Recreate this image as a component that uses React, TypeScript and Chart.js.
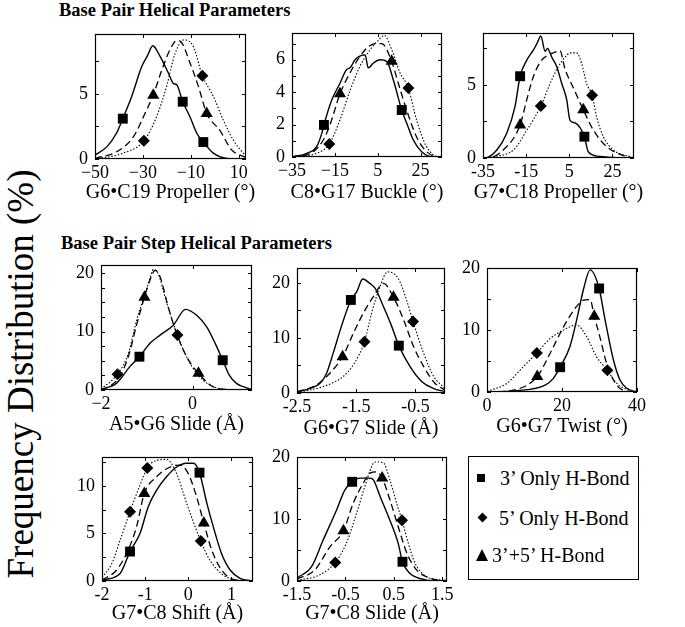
import React, { useEffect, useRef } from "react";
import { Chart, registerables } from "chart.js";
Chart.register(...registerables);

type Pt = [number, number];

// ---------- Panel 1: G6•C19 Propeller ----------
const p1Solid: Pt[] = [[-50,0.3],[-45,0.95],[-41,2.0],[-38.4,3.1],[-34.7,4.8],[-30.5,7.1],[-28.2,7.9],[-25.9,8.7],[-22.9,7.9],[-19.4,6.6],[-17.3,5.8],[-15.9,5.7],[-13.4,4.4],[-10.4,3.25],[-7.6,2.0],[-4.8,1.3],[-0.6,0.45],[5,0.05],[13,0]];
const p1Dashed: Pt[] = [[-50,0.05],[-41,0.56],[-34,1.7],[-28.4,3.8],[-25.7,4.9],[-22.2,6.8],[-18.7,8.4],[-15.9,9.1],[-13.9,8.95],[-10.4,7.4],[-6.9,5.6],[-3.4,3.5],[2.1,2.2],[7,0.7],[11.9,0.2],[13,0.12]];
const p1Dotted: Pt[] = [[-50,0],[-38.2,0.45],[-29.6,1.4],[-24.3,3.25],[-20.1,5.6],[-16.6,8.1],[-12.9,9.15],[-9,8.65],[-5.2,6.4],[-0.6,4.8],[3.5,3.0],[7.7,1.46],[11.9,0.45],[13,0.3]];
const p1Squares: Pt[] = [[-38.4,3.1],[-13.4,4.4],[-4.8,1.3]];
const p1Diamonds: Pt[] = [[-29.6,1.4],[-5.2,6.4]];
const p1Triangles: Pt[] = [[-25.7,4.9],[-3.4,3.5]];
const p1XTicks = [-50,-30,-10,10];
const p1XLabels = ["\u221250","\u221230","\u221210","10"];
const p1YTicks = [0,2.5,5,7.5];
const p1YLabels = ["0","","5",""];

// ---------- Panel 2: C8•G17 Buckle ----------
const p2Solid: Pt[] = [[-35,0],[-28.1,0.23],[-23.5,0.64],[-21.1,1.46],[-20.1,1.98],[-16.5,3.5],[-12.6,4.55],[-9.5,5.4],[-7.9,5.5],[-5.6,6.0],[-0.9,6.3],[0.6,5.5],[3,5.8],[6.1,6.0],[9.2,5.9],[12.3,4.75],[16.2,2.9],[18.5,2.1],[21.6,1.05],[25.5,0.33],[30.9,0],[35,0]];
const p2Dashed: Pt[] = [[-35,0],[-25,0.33],[-20.4,1.05],[-17.3,1.98],[-12.6,3.9],[-7.9,5.2],[-3.3,6.2],[0.6,6.8],[4.5,7.0],[6.9,7.0],[11.5,5.9],[14.6,4.55],[18.5,2.9],[23.1,1.25],[27.8,0.33],[34,0],[35,0]];
const p2Dotted: Pt[] = [[-35,0],[-23.5,0.23],[-17.6,0.8],[-12.6,2.3],[-7.9,4.1],[-3.3,5.6],[1.4,6.6],[5.3,7.2],[8.1,7.5],[11.6,6.6],[15.4,5.2],[19.3,4.25],[23.1,2.3],[27.8,0.64],[34,0],[35,0]];
const p2Squares: Pt[] = [[-20.1,1.98],[16.2,2.9]];
const p2Diamonds: Pt[] = [[-17.6,0.8],[19.3,4.25]];
const p2Triangles: Pt[] = [[-12.6,3.9],[11.5,5.9]];
const p2XTicks = [-35,-15,5,25];
const p2XLabels = ["\u221235","\u221215","5","25"];
const p2YTicks = [0,1,2,3,4,5,6,7];
const p2YLabels = ["0","","2","","4","","6",""];

// ---------- Panel 3: G7•C18 Propeller ----------
const p3Solid: Pt[] = [[-35,0],[-34.1,0],[-28.6,0.55],[-24,1.7],[-20.2,3.5],[-17.8,5.6],[-14.7,6.7],[-11.6,7.4],[-9.8,7.9],[-8.2,8.35],[-6.2,7.3],[-5.1,7.5],[-3.1,6.9],[-0.8,6.25],[1.5,5.1],[3.8,4.0],[5.3,2.6],[7.7,2.4],[12,1.46],[13.8,0.43],[19.2,0.1],[30,0],[35,0]];
const p3Dashed: Pt[] = [[-35,0],[-33,0],[-25.6,0.55],[-17.8,2.26],[-14.7,4.0],[-11.6,5.6],[-7.8,6.7],[-4.7,7.05],[-2.4,7.2],[0.7,7.35],[3,6.1],[6.9,4.8],[11.5,3.3],[16.2,1.9],[22.4,0.77],[31.6,0.1],[35,0]];
const p3Dotted: Pt[] = [[-35,0],[-30,0.1],[-20.9,0.55],[-14.7,1.9],[-8.2,3.56],[-3.9,5.1],[-0.1,6.25],[3,6.9],[5.3,7.2],[8.4,7.2],[10.7,6.5],[13,5.1],[15.6,4.3],[17.7,2.8],[20.8,1.46],[25.4,0.55],[34.7,0.02],[35,0]];
const p3Squares: Pt[] = [[-17.8,5.6],[12,1.46]];
const p3Diamonds: Pt[] = [[-8.2,3.56],[15.6,4.3]];
const p3Triangles: Pt[] = [[-17.8,2.26],[11.5,3.3]];
const p3XTicks = [-35,-15,5,25];
const p3XLabels = ["-35","-15","5","25"];
const p3YTicks = [0,2.5,5,7.5];
const p3YLabels = ["0","","5",""];

// ---------- Panel 4: A5•G6 Slide ----------
const p4Solid: Pt[] = [[-2,0.1],[-1.66,1.15],[-1.37,4.0],[-1.16,5.7],[-0.93,8.0],[-0.71,9.4],[-0.42,11.1],[-0.15,13.8],[0.09,12.8],[0.31,10.8],[0.5,7.9],[0.66,5.1],[0.8,2.6],[0.96,1.14],[1.11,0.56],[1.25,0.17],[1.3,0.1]];
const p4Dashed: Pt[] = [[-2,0],[-1.77,0.85],[-1.59,2.3],[-1.4,5.8],[-1.22,11.2],[-1.05,15.9],[-0.93,18.8],[-0.82,20.5],[-0.71,19.4],[-0.53,14.2],[-0.35,9.7],[-0.12,5.6],[0.13,2.85],[0.45,0.56],[0.75,0.1],[1.3,0]];
const p4Dotted: Pt[] = [[-2,0.15],[-1.64,2.7],[-1.4,6.3],[-1.22,12.0],[-1.05,16.2],[-0.93,19.1],[-0.86,20.6],[-0.75,19.9],[-0.57,15.1],[-0.33,9.4],[-0.13,5.7],[0.09,2.85],[0.38,0.85],[0.75,0.1],[1.3,0]];
const p4Squares: Pt[] = [[-1.16,5.7],[0.66,5.1]];
const p4Diamonds: Pt[] = [[-1.64,2.7],[-0.33,9.4]];
const p4Triangles: Pt[] = [[-1.05,15.9],[0.13,2.85]];
const p4XTicks = [-2,0];
const p4XLabels = ["\u22122","0"];
const p4YTicks = [0,2.5,5,7.5,10,12.5,15,17.5,20];
const p4YLabels = ["0","","","","10","","","","20"];

// ---------- Panel 5: G6•G7 Slide ----------
const p5Solid: Pt[] = [[-2.5,0.2],[-2.28,0.85],[-2.11,1.76],[-2,3.6],[-1.89,7.2],[-1.75,12.1],[-1.59,16.9],[-1.49,18.4],[-1.39,20.7],[-1.27,19.9],[-1.18,19.0],[-1.04,15.7],[-0.9,12.1],[-0.78,8.6],[-0.59,4.8],[-0.39,2.05],[-0.2,0.85],[0,0.24]];
const p5Dashed: Pt[] = [[-2.5,0.2],[-2.17,1.45],[-2,3.0],[-1.73,6.6],[-1.55,10.8],[-1.38,14.5],[-1.21,17.5],[-1.04,19.9],[-0.87,17.4],[-0.7,13.3],[-0.53,8.4],[-0.36,4.8],[-0.17,1.76],[0,0.55]];
const p5Dotted: Pt[] = [[-2.5,0.1],[-2.06,1.15],[-1.72,3.0],[-1.55,5.1],[-1.36,9.3],[-1.24,14.5],[-1.1,19.3],[-0.97,22.0],[-0.79,20.8],[-0.65,16.9],[-0.54,13.0],[-0.36,7.2],[-0.19,3.0],[0,0.85]];
const p5Squares: Pt[] = [[-1.59,16.9],[-0.78,8.6]];
const p5Diamonds: Pt[] = [[-1.36,9.3],[-0.54,13.0]];
const p5Triangles: Pt[] = [[-1.73,6.6],[-0.87,17.4]];
const p5XTicks = [-2.5,-1.5,-0.5];
const p5XLabels = ["-2.5","-1.5","-0.5"];
const p5YTicks = [0,5,10,15,20];
const p5YLabels = ["0","","10","","20"];

// ---------- Panel 6: G6•G7 Twist ----------
const p6Solid: Pt[] = [[0,0],[7.9,0.2],[15.5,1.1],[17.7,2.2],[19.5,4.0],[22.1,7.3],[23.9,11.6],[25.7,16.5],[27.5,19.7],[29.9,16.7],[31.5,11.6],[33.7,5.2],[35.5,1.9],[37.3,0.6],[40,0]];
const p6Dashed: Pt[] = [[0,0],[7,0.3],[13.4,2.5],[16.8,6.2],[20.4,10.5],[23.9,13.8],[25.7,14.8],[27.5,14.9],[28.6,12.2],[30.1,8.9],[31.9,4.6],[34.6,1.1],[38.2,0.05],[40,0]];
const p6Dotted: Pt[] = [[0,0.1],[5.3,1.4],[9.7,4.1],[13.3,6.3],[16.8,8.6],[20.4,10.0],[23.9,10.8],[26.6,8.9],[29.2,5.7],[32.1,3.5],[34.6,1.4],[38.2,0.2],[40,0]];
const p6Squares: Pt[] = [[19.5,4.0],[29.9,16.7]];
const p6Diamonds: Pt[] = [[13.3,6.3],[32.1,3.5]];
const p6Triangles: Pt[] = [[13.4,2.5],[28.6,12.2]];
const p6XTicks = [0,20,40];
const p6XLabels = ["0","20","40"];
const p6YTicks = [0,5,10,15,20];
const p6YLabels = ["0","","10","","20"];

// ---------- Panel 7: G7•C8 Shift ----------
const p7Solid: Pt[] = [[-2,0.1],[-1.58,0.8],[-1.35,3.1],[-1.12,5.0],[-0.93,7.8],[-0.73,9.6],[-0.5,11.0],[-0.27,12.0],[-0.04,12.4],[0.12,12.4],[0.26,11.4],[0.43,8.2],[0.58,5.7],[0.77,2.9],[0.97,1.16],[1.2,0.28],[1.5,0]];
const p7Dashed: Pt[] = [[-2,0.1],[-1.66,1.16],[-1.39,3.3],[-1.2,5.7],[-1.02,9.2],[-0.73,11.0],[-0.42,12.0],[-0.19,12.2],[0,11.3],[0.19,8.9],[0.36,6.1],[0.54,3.3],[0.77,1.16],[1.04,0.18],[1.5,0]];
const p7Dotted: Pt[] = [[-2,0.35],[-1.77,1.86],[-1.58,4.3],[-1.35,7.3],[-1.12,10.1],[-0.95,11.9],[-0.73,12.7],[-0.5,12.8],[-0.27,11.3],[-0.04,8.2],[0.29,4.2],[0.5,2.2],[0.81,0.63],[1.12,0.1],[1.5,0]];
const p7Squares: Pt[] = [[-1.35,3.1],[0.26,11.4]];
const p7Diamonds: Pt[] = [[-1.35,7.3],[-0.95,11.9],[0.29,4.2]];
const p7Triangles: Pt[] = [[-1.02,9.2],[0.36,6.1]];
const p7XTicks = [-2,-1,0,1];
const p7XLabels = ["-2","-1","0","1"];
const p7YTicks = [0,2.5,5,7.5,10,12.5];
const p7YLabels = ["0","","5","","10",""];

// ---------- Panel 8: G7•C8 Slide ----------
const p8Solid: Pt[] = [[-1.5,0.5],[-1.2,2.3],[-0.96,6.6],[-0.68,11.5],[-0.51,14.7],[-0.36,16.0],[-0.2,16.6],[0.01,16.6],[0.08,16.3],[0.22,13.6],[0.42,9.8],[0.59,6.1],[0.68,3.1],[0.83,1.24],[1.11,0.27],[1.45,0],[1.6,0]];
const p8Dashed: Pt[] = [[-1.5,0.3],[-1.13,1.8],[-0.82,5.5],[-0.54,8.1],[-0.34,12.5],[-0.13,15.8],[0.01,17.4],[0.15,17.6],[0.26,16.6],[0.42,13.1],[0.59,8.8],[0.77,4.5],[0.97,1.8],[1.25,0.44],[1.52,0.05],[1.6,0]];
const p8Dotted: Pt[] = [[-1.5,0.1],[-1.03,1.0],[-0.71,3.0],[-0.48,6.1],[-0.27,10.9],[-0.1,15.2],[0.04,18.4],[0.11,19.2],[0.28,19.1],[0.42,16.3],[0.56,12.5],[0.67,9.8],[0.8,6.1],[0.94,2.85],[1.18,0.7],[1.52,0.15],[1.6,0.1]];
const p8Squares: Pt[] = [[-0.36,16.0],[0.68,3.1]];
const p8Diamonds: Pt[] = [[-0.71,3.0],[0.67,9.8]];
const p8Triangles: Pt[] = [[-0.54,8.1],[0.26,16.6]];
const p8XTicks = [-1.5,-0.5,0.5,1.5];
const p8XLabels = ["-1.5","-0.5","0.5","1.5"];
const p8YTicks = [0,5,10,15,20];
const p8YLabels = ["0","","10","","20"];

const legendLabels = ["3\u2019 Only H-Bond", "5\u2019 Only H-Bond", "3\u2019+5\u2019 H-Bond"];
const sectionTitles = ["Base Pair Helical Parameters", "Base Pair Step Helical Parameters"];
const yAxisTitle = "Frequency Distribution (%)";

const FONT = '"Liberation Serif", "Times New Roman", Times, serif';
const PAD_L = 50, PAD_T = 20, PAD_R = 16, PAD_B = 52;

interface PanelSpec {
  title: string;
  solid: Pt[]; dashed: Pt[]; dotted: Pt[];
  squares: Pt[]; diamonds: Pt[]; triangles: Pt[];
  xMin: number; xMax: number; xTicks: number[]; xLabels: string[];
  yMax: number; yTicks: number[]; yLabels: string[];
  left: number; top: number; width: number; height: number; titleOffset: number;
}

const panels: PanelSpec[] = [
  { title: "G6\u2022C19 Propeller (\u00b0)", solid: p1Solid, dashed: p1Dashed, dotted: p1Dotted, squares: p1Squares, diamonds: p1Diamonds, triangles: p1Triangles,
    xMin: -50, xMax: 13, xTicks: p1XTicks, xLabels: p1XLabels, yMax: 9.6, yTicks: p1YTicks, yLabels: p1YLabels,
    left: 95, top: 34, width: 151, height: 125, titleOffset: 34 },
  { title: "C8\u2022G17 Buckle (\u00b0)", solid: p2Solid, dashed: p2Dashed, dotted: p2Dotted, squares: p2Squares, diamonds: p2Diamonds, triangles: p2Triangles,
    xMin: -35, xMax: 35, xTicks: p2XTicks, xLabels: p2XLabels, yMax: 7.65, yTicks: p2YTicks, yLabels: p2YLabels,
    left: 292, top: 33, width: 150, height: 124, titleOffset: 36 },
  { title: "G7\u2022C18 Propeller (\u00b0)", solid: p3Solid, dashed: p3Dashed, dotted: p3Dotted, squares: p3Squares, diamonds: p3Diamonds, triangles: p3Triangles,
    xMin: -35, xMax: 35, xTicks: p3XTicks, xLabels: p3XLabels, yMax: 8.56, yTicks: p3YTicks, yLabels: p3YLabels,
    left: 483, top: 33, width: 151, height: 125, titleOffset: 35 },
  { title: "A5\u2022G6 Slide (\u00c5)", solid: p4Solid, dashed: p4Dashed, dotted: p4Dotted, squares: p4Squares, diamonds: p4Diamonds, triangles: p4Triangles,
    xMin: -2, xMax: 1.3, xTicks: p4XTicks, xLabels: p4XLabels, yMax: 21.4, yTicks: p4YTicks, yLabels: p4YLabels,
    left: 101, top: 265, width: 151, height: 125, titleOffset: 35 },
  { title: "G6\u2022G7 Slide (\u00c5)", solid: p5Solid, dashed: p5Dashed, dotted: p5Dotted, squares: p5Squares, diamonds: p5Diamonds, triangles: p5Triangles,
    xMin: -2.5, xMax: 0, xTicks: p5XTicks, xLabels: p5XLabels, yMax: 22.7, yTicks: p5YTicks, yLabels: p5YLabels,
    left: 297, top: 268, width: 148, height: 125, titleOffset: 36 },
  { title: "G6\u2022G7 Twist (\u00b0)", solid: p6Solid, dashed: p6Dashed, dotted: p6Dotted, squares: p6Squares, diamonds: p6Diamonds, triangles: p6Triangles,
    xMin: 0, xMax: 40, xTicks: p6XTicks, xLabels: p6XLabels, yMax: 20, yTicks: p6YTicks, yLabels: p6YLabels,
    left: 487, top: 268, width: 150, height: 124, titleOffset: 35 },
  { title: "G7\u2022C8 Shift (\u00c5)", solid: p7Solid, dashed: p7Dashed, dotted: p7Dotted, squares: p7Squares, diamonds: p7Diamonds, triangles: p7Triangles,
    xMin: -2, xMax: 1.5, xTicks: p7XTicks, xLabels: p7XLabels, yMax: 13.05, yTicks: p7YTicks, yLabels: p7YLabels,
    left: 102, top: 457, width: 151, height: 124, titleOffset: 33 },
  { title: "G7\u2022C8 Slide (\u00c5)", solid: p8Solid, dashed: p8Dashed, dotted: p8Dotted, squares: p8Squares, diamonds: p8Diamonds, triangles: p8Triangles,
    xMin: -1.5, xMax: 1.6, xTicks: p8XTicks, xLabels: p8XLabels, yMax: 20, yTicks: p8YTicks, yLabels: p8YLabels,
    left: 297, top: 457, width: 150, height: 124, titleOffset: 33 },
];

function framePlugin(spec: PanelSpec) {
  return {
    id: "frame",
    afterDraw(chart: any) {
      const { ctx, chartArea: a, scales } = chart;
      ctx.save();
      ctx.strokeStyle = "#000";
      ctx.lineWidth = 1.2;
      ctx.strokeRect(a.left + 0.5, a.top + 0.5, a.right - a.left - 1, a.bottom - a.top - 1);
      const t = 4;
      ctx.lineWidth = 1;
      ctx.beginPath();
      for (const v of spec.yTicks) {
        const y = Math.round(scales.y.getPixelForValue(v)) + 0.5;
        ctx.moveTo(a.left, y); ctx.lineTo(a.left + t, y);
        ctx.moveTo(a.right, y); ctx.lineTo(a.right - t, y);
      }
      for (const v of spec.xTicks) {
        const x = Math.round(scales.x.getPixelForValue(v)) + 0.5;
        ctx.moveTo(x, a.bottom); ctx.lineTo(x, a.bottom - t);
        ctx.moveTo(x, a.top); ctx.lineTo(x, a.top + t);
      }
      ctx.stroke();
      ctx.fillStyle = "#000";
      ctx.font = `20px ${FONT}`;
      ctx.textAlign = "center";
      ctx.textBaseline = "middle";
      ctx.fillText(spec.title, (a.left + a.right) / 2, a.bottom + spec.titleOffset);
      ctx.restore();
    },
  };
}

function Panel({ spec }: { spec: PanelSpec }) {
  const ref = useRef<HTMLCanvasElement>(null);
  const cw = spec.width + PAD_L + PAD_R;
  const ch = spec.height + PAD_T + PAD_B;
  useEffect(() => {
    const canvas = ref.current;
    if (!canvas) return;
    const toXY = (arr: Pt[]) => arr.map(([x, y]) => ({ x, y }));
    const line = (arr: Pt[], dash: number[], w: number) => ({
      data: toXY(arr), showLine: true, borderColor: "#000", backgroundColor: "#000",
      borderWidth: w, borderDash: dash, pointRadius: 0, pointHoverRadius: 0,
      cubicInterpolationMode: "monotone", fill: false, order: 2,
    });
    const marks = (arr: Pt[], style: string, r: number) => ({
      data: toXY(arr), showLine: false, pointStyle: style, pointRadius: r, pointHoverRadius: r,
      pointBackgroundColor: "#000", pointBorderColor: "#000", pointBorderWidth: 0,
      backgroundColor: "#000", borderColor: "#000", order: 1,
    });
    const tickFont = { family: FONT, size: 18 };
    const chart = new Chart(canvas, {
      type: "scatter",
      data: {
        datasets: [
          marks(spec.squares, "rect", 7),
          marks(spec.diamonds, "rectRot", 6),
          marks(spec.triangles, "triangle", 7),
          line(spec.solid, [], 1.4),
          line(spec.dashed, [7, 4], 1.3),
          line(spec.dotted, [1.5, 1.8], 1.1),
        ] as any,
      },
      options: {
        responsive: false,
        animation: false,
        devicePixelRatio: 1,
        events: [],
        layout: { padding: { top: PAD_T, right: PAD_R, left: 0, bottom: 0 } },
        plugins: { legend: { display: false }, tooltip: { enabled: false }, title: { display: false } },
        scales: {
          x: {
            type: "linear", min: spec.xMin, max: spec.xMax,
            grid: { display: false, drawTicks: false }, border: { display: false },
            afterBuildTicks: (s: any) => { s.ticks = spec.xTicks.map((v) => ({ value: v })); },
            afterFit: (s: any) => { s.height = PAD_B; },
            ticks: { callback: (_v: any, i: number) => spec.xLabels[i], font: tickFont, color: "#000", padding: 3, maxRotation: 0, autoSkip: false },
          },
          y: {
            type: "linear", min: 0, max: spec.yMax,
            grid: { display: false, drawTicks: false }, border: { display: false },
            afterBuildTicks: (s: any) => { s.ticks = spec.yTicks.map((v) => ({ value: v })); },
            afterFit: (s: any) => { s.width = PAD_L; },
            ticks: { callback: (_v: any, i: number) => spec.yLabels[i], font: tickFont, color: "#000", padding: 7, autoSkip: false },
          },
        },
      } as any,
      plugins: [framePlugin(spec)],
    });
    return () => chart.destroy();
  }, [spec]);
  return (
    <canvas
      ref={ref}
      width={cw}
      height={ch}
      style={{ position: "absolute", left: spec.left - PAD_L, top: spec.top - PAD_T, width: cw, height: ch }}
    />
  );
}

function Legend() {
  const text: React.CSSProperties = { position: "absolute", fontFamily: FONT, fontSize: 20, lineHeight: "22px", whiteSpace: "nowrap", color: "#000" };
  return (
    <div style={{ position: "absolute", left: 468, top: 456, width: 171, height: 124, border: "1.5px solid #000", boxSizing: "border-box", background: "#fff" }}>
      <div style={{ position: "absolute", left: 8, top: 17, width: 8, height: 8, background: "#000" }} />
      <div style={{ ...text, left: 31, top: 10 }}>{legendLabels[0]}</div>
      <div style={{ position: "absolute", left: 9.5, top: 57, width: 7, height: 7, background: "#000", transform: "rotate(45deg)" }} />
      <div style={{ ...text, left: 30, top: 50 }}>{legendLabels[1]}</div>
      <div style={{ position: "absolute", left: 6.5, top: 92, width: 0, height: 0, borderLeft: "6.5px solid transparent", borderRight: "6.5px solid transparent", borderBottom: "12px solid #000" }} />
      <div style={{ ...text, left: 23, top: 87 }}>{legendLabels[2]}</div>
    </div>
  );
}

export default function App() {
  const sectionStyle: React.CSSProperties = { position: "absolute", fontFamily: FONT, fontWeight: "bold", fontSize: 18.5, lineHeight: "20px", whiteSpace: "nowrap" };
  return (
    <div style={{ position: "fixed", left: 0, top: 0, width: 685, height: 627, background: "#fff", overflow: "hidden" }}>
      <div style={{ ...sectionStyle, left: 59, top: 0 }}>{sectionTitles[0]}</div>
      <div style={{ ...sectionStyle, left: 61, top: 233 }}>{sectionTitles[1]}</div>
      <div style={{ position: "absolute", left: 21, top: 374, transform: "translate(-50%, -50%) rotate(-90deg)", fontFamily: FONT, fontSize: 37, lineHeight: "40px", whiteSpace: "nowrap" }}>{yAxisTitle}</div>
      {panels.map((p, i) => <Panel key={i} spec={p} />)}
      <Legend />
    </div>
  );
}
